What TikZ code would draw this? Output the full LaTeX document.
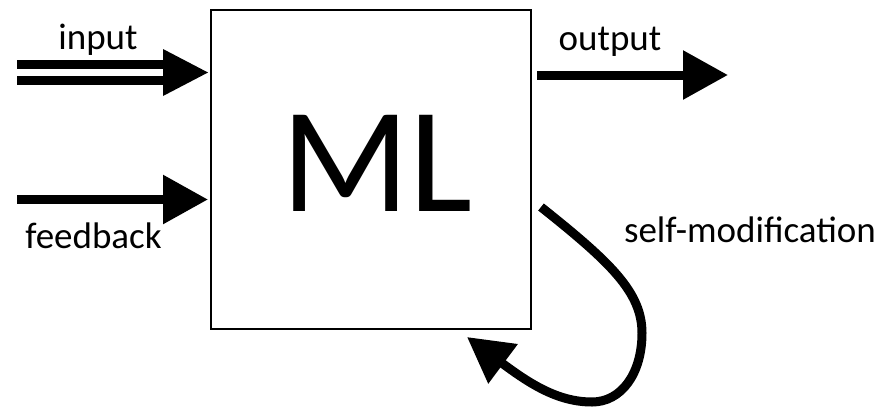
\documentclass[tikz,border=0pt]{standalone}
\usepackage{fontspec}
\setmainfont{Carlito}
\usetikzlibrary{arrows.meta}
\tikzset{
  thick arrow/.style={line width=9pt, -{Triangle[length=45pt,width=47pt]}},
  bar/.style={line width=9pt},
  lbl/.style={font=\fontsize{37}{40}\selectfont, anchor=base, inner sep=0pt},
  mlbox/.style={draw, line width=2.2pt, minimum width=320pt, minimum height=319pt, inner sep=0pt,
    font=\fontsize{152}{160}\selectfont}
}
\begin{document}
\begin{tikzpicture}[x=1pt,y=-1pt]
\useasboundingbox (0,0) rectangle (887,408);
\node[mlbox] (ml) at (371,169.5) {};
\node[font=\fontsize{150}{160}\selectfont, anchor=base, inner sep=0pt] (mltext) at (377,211) {ML};
% input (double) arrow
\coordinate (inA) at (17,64.5);
\coordinate (inAe) at (166,64.5);
\coordinate (inB) at (17,80.5);
\coordinate (inBe) at (166,80.5);
\coordinate (inTip) at (208,72.5);
\draw[bar] (inA) -- (inAe);
\draw[bar] (inB) -- (inBe);
\fill (inTip) -- (163,49) -- (163,96) -- cycle;
\node[lbl] (input) at (98,49) {input};
% feedback arrow
\coordinate (fbS) at (17,199.5);
\coordinate (fbT) at (208,199.5);
\draw[thick arrow] (fbS) -- (fbT);
\node[lbl] (feedback) at (93.5,248) {feedback};
% output arrow
\coordinate (outS) at (537,75);
\coordinate (outT) at (728,75);
\draw[thick arrow] (outS) -- (outT);
\node[lbl] (output) at (610,50) {output};
% self-modification loop
\coordinate (smS) at (541,207);
\coordinate (smR) at (642,333);
\coordinate (smB) at (592,402);
\coordinate (smT) at (467,337);
\draw[thick arrow] (smS) .. controls (610,262) and (642,292) .. (smR)
  .. controls (642,374) and (621,402) .. (smB)
  .. controls (558,402) and (530,384) .. (smT);
\node[lbl] (selfmod) at (750,242) {self-modification};
\end{tikzpicture}
\end{document}
